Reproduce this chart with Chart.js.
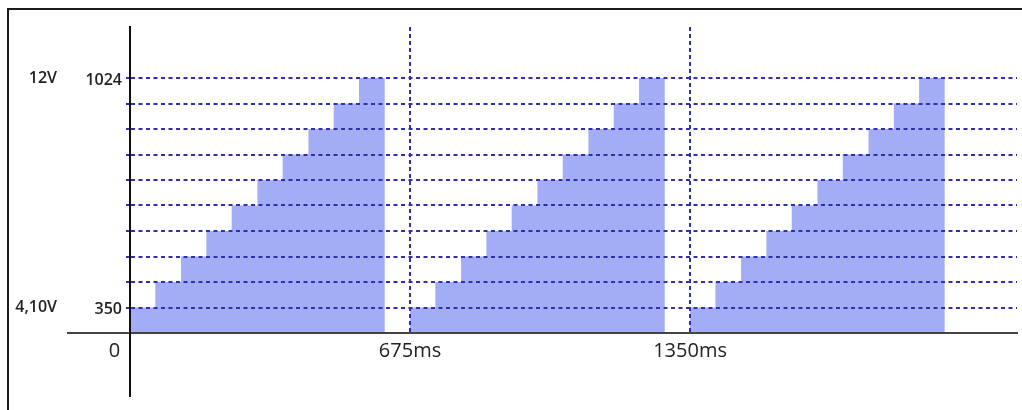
<!DOCTYPE html>
<html>
<head>
<meta charset="utf-8">
<title>DAC ramp</title>
<script src="https://cdn.jsdelivr.net/npm/chart.js@4.4.0/dist/chart.umd.min.js"></script>
<style>
  html, body { margin: 0; padding: 0; background: #fff; overflow: hidden; }
  #wrap { position: relative; width: 1022px; height: 410px; }
  #frame { position: absolute; left: 7px; top: 8px; width: 1100px; height: 500px; border: 2px solid #1c1c1c; }
  #chart { position: absolute; left: 0; top: 0; }
</style>
</head>
<body>
<div id="wrap">
  <div id="frame"></div>
  <canvas id="chart" width="1022" height="410"></canvas>
</div>
<script>
// one ramp = 10 steps, repeated every 675 ms
var periodStarts = [0, 675, 1350];                                   // ms
var stepStarts = [0, 61, 123, 184, 245, 307, 368, 430, 491, 552];    // ms inside a period
var rampEnd = 614;                                                   // ms, end of the last step
var stepLevels = [1, 2, 3, 4, 5, 6, 7, 8, 9, 10];
var levelLabels = ['350', '', '', '', '', '', '', '', '', '1024'];
var voltTicks = [1, 10];
var voltLabels = ['4,10V', '12V'];
var timeTicks = [0, 675, 1350];
var timeLabels = ['0      ', '675ms', '1350ms'];

var dash = '#3030ac';
var font = { family: 'Open Sans', size: 16, weight: '600' };

var points = [];
periodStarts.forEach(function (p) {
    stepStarts.forEach(function (s, i) {
        points.push({ x: p + s, y: stepLevels[i] });
    });
    points.push({ x: p + rampEnd, y: 0 });
});

// axis lines go a bit past the origin (left and down)
var axisTails = {
    id: 'axisTails',
    afterDraw: function (chart) {
        var ctx = chart.ctx, area = chart.chartArea;
        var x0 = chart.scales.x.getPixelForValue(0);
        var y0 = chart.scales.y.getPixelForValue(0);
        ctx.save();
        ctx.lineWidth = 2;
        ctx.strokeStyle = '#444';
        ctx.beginPath();
        ctx.moveTo(area.left - 63, y0);
        ctx.lineTo(area.left, y0);
        ctx.stroke();
        ctx.strokeStyle = '#111';
        ctx.beginPath();
        ctx.moveTo(x0, area.bottom);
        ctx.lineTo(x0, area.bottom + 64);
        ctx.stroke();
        ctx.restore();
    }
};

new Chart(document.getElementById('chart'), {
    type: 'line',
    data: {
        datasets: [{
            data: points,
            stepped: true,
            fill: 'origin',
            backgroundColor: '#a3adf6',
            borderWidth: 0,
            pointRadius: 0
        }]
    },
    options: {
        responsive: false,
        animation: false,
        layout: { padding: { left: 0, top: 27, right: 5, bottom: 0 } },
        plugins: { legend: { display: false }, tooltip: { enabled: false } },
        scales: {
            x: {
                type: 'linear', min: 0, max: 2138,
                afterBuildTicks: function (s) {
                    s.ticks = timeTicks.map(function (v) { return { value: v }; });
                },
                afterFit: function (s) { s.height = 77; },
                ticks: {
                    padding: 6, maxRotation: 0, autoSkip: false,
                    font: { family: 'Open Sans', size: 20 }, color: '#222',
                    callback: function (v) { return timeLabels[timeTicks.indexOf(v)]; }
                },
                grid: {
                    z: 1, drawTicks: false, lineWidth: 2,
                    color: function (c) { return c.tick && c.tick.value === 0 ? 'rgba(0,0,0,0)' : dash; }
                },
                border: { z: 2, color: '#444', width: 2, dash: [4, 3] }
            },
            y: {
                type: 'linear', position: 'left', weight: 0, min: 0, max: 12,
                afterBuildTicks: function (s) {
                    s.ticks = stepLevels.map(function (v) { return { value: v }; });
                },
                afterFit: function (s) { s.width = 64; },
                ticks: {
                    padding: 4, labelOffset: 2, autoSkip: false, font: font, color: '#222',
                    callback: function (v) { return levelLabels[stepLevels.indexOf(v)]; }
                },
                grid: { z: 1, lineWidth: 2, color: dash, tickLength: 4, tickBorderDash: [] },
                border: { z: 2, color: '#111', width: 2, dash: [4, 3.5] }
            },
            yv: {
                type: 'linear', position: 'left', weight: 1, min: 0, max: 12,
                afterBuildTicks: function (s) {
                    s.ticks = voltTicks.map(function (v) { return { value: v }; });
                },
                afterFit: function (s) { s.width = 66; },
                ticks: {
                    padding: 1, autoSkip: false, font: font, color: '#222',
                    callback: function (v) { return voltLabels[voltTicks.indexOf(v)]; }
                },
                grid: { display: false },
                border: { display: false }
            }
        }
    },
    plugins: [axisTails]
});
</script>
</body>
</html>
